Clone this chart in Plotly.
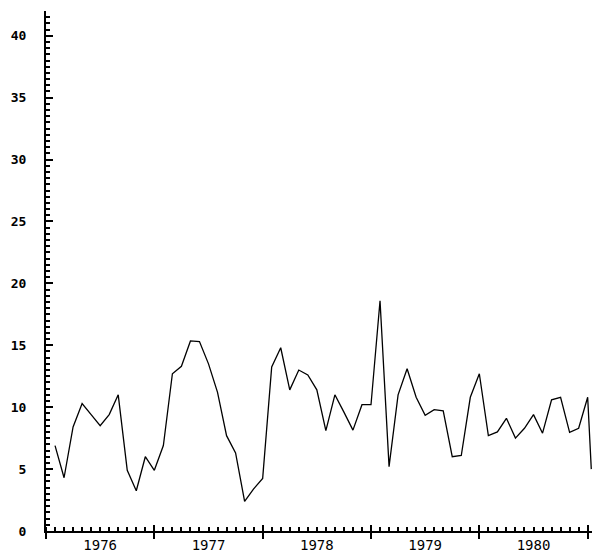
import plotly.graph_objects as go

# month offsets after Jan 1976 (last point is a short final stub)
month_offsets = list(range(1, 61)) + [60.4]
values = [6.9, 4.3, 8.4, 10.3, 9.4, 8.5, 9.4, 11.0, 4.9, 3.25,
          6.0, 4.9, 6.9, 12.7, 13.3, 15.35, 15.3, 13.5, 11.2, 7.7,
          6.3, 2.4, 3.4, 4.25, 13.25, 14.8, 11.4, 13.0, 12.6, 11.4,
          8.1, 11.0, 9.6, 8.15, 10.2, 10.2, 18.6, 5.2, 11.0, 13.1,
          10.8, 9.35, 9.8, 9.7, 6.0, 6.1, 10.8, 12.7, 7.7, 8.0,
          9.1, 7.5, 8.3, 9.4, 7.9, 10.6, 10.8, 7.96, 8.3, 10.8,
          5.0]
years = [1976, 1977, 1978, 1979, 1980, 1981]
year_labels = ["1976", "1977", "1978", "1979", "1980"]
y_ticks = [0, 5, 10, 15, 20, 25, 30, 35, 40]

x = [1976 + m / 12 for m in month_offsets]

fig = go.Figure()
fig.add_trace(go.Scatter(x=x, y=values, mode="lines",
                         line=dict(color="black", width=1.3),
                         showlegend=False, hoverinfo="skip"))
# invisible traces to activate overlay axes
fig.add_trace(go.Scatter(x=[1976], y=[0], xaxis="x2", mode="markers",
                         marker=dict(opacity=0), showlegend=False, hoverinfo="skip"))
fig.add_trace(go.Scatter(x=[1976], y=[0], xaxis="x3", mode="markers",
                         marker=dict(opacity=0), showlegend=False, hoverinfo="skip"))

xr = [1976, 1981.04]
fig.update_layout(
    width=600, height=559,
    margin=dict(l=46, r=8, t=11, b=28),
    paper_bgcolor="white", plot_bgcolor="white",
    xaxis=dict(range=xr, autorange=False, automargin=False,
               showgrid=False, zeroline=False,
               showline=True, linecolor="black", linewidth=2,
               tickmode="array", tickvals=years, ticks="outside",
               ticklen=6, tickwidth=2, tickcolor="black",
               showticklabels=False,
               minor=dict(tickmode="linear", tick0=1976, dtick=1/12,
                          ticks="inside", ticklen=4, tickwidth=1.5,
                          tickcolor="black", showgrid=False)),
    xaxis2=dict(range=xr, autorange=False, automargin=False,
                overlaying="x", side="bottom",
                showgrid=False, zeroline=False, showline=False,
                tickmode="array", tickvals=[y + 0.5 for y in years[:-1]],
                ticktext=year_labels, ticks="", ticklabelstandoff=4,
                tickfont=dict(family="DejaVu Sans Mono", size=14, color="black")),
    xaxis3=dict(range=xr, autorange=False, automargin=False,
                overlaying="x", side="bottom",
                showgrid=False, zeroline=False, showline=False,
                tickmode="array", tickvals=years, ticks="inside",
                ticklen=6, tickwidth=2, tickcolor="black",
                showticklabels=False),
    yaxis=dict(range=[0, 42], autorange=False, automargin=False,
               showgrid=False, zeroline=False,
               showline=True, linecolor="black", linewidth=2,
               tickmode="array", tickvals=y_ticks, ticks="inside",
               ticklen=7, tickwidth=2, tickcolor="black",
               ticklabelstandoff=15,
               tickfont=dict(family="DejaVu Sans Mono", size=13, color="black",
                             weight="bold"),
               minor=dict(tickmode="linear", tick0=0, dtick=0.5,
                          ticks="inside", ticklen=4, tickwidth=1.5,
                          tickcolor="black", showgrid=False)),
)

fig.write_html("out.html", config={"displayModeBar": False},
               post_script="document.body.style.margin='0';")
